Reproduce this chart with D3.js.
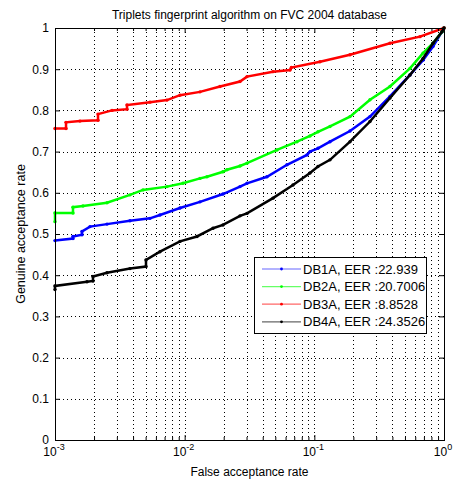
<!DOCTYPE html>
<html lang="en">
<head>
  <script src="https://d3js.org/d3.v7.min.js"></script>
  <style>
    body { margin: 0; background: #fff; }
    text { font-family: "Liberation Sans", Arial, sans-serif; }
  </style>
</head>
<body>
<svg width="455" height="483"></svg>
<script>
// ROC data: false acceptance rate / genuine acceptance rate
var db1aFar = [0.001, 0.001376, 0.001376, 0.001615, 0.001615, 0.001862, 0.002518, 0.003787, 0.005403, 0.006451, 0.009204, 0.01313, 0.01975, 0.02672, 0.03025, 0.04314, 0.06153, 0.08779, 0.0926, 0.1067, 0.1321, 0.1884, 0.2687, 0.3832, 0.5465, 0.6887, 0.8225, 0.9649, 1.0];
var db1aGar = [0.484, 0.489, 0.494, 0.498, 0.506, 0.518, 0.524, 0.532, 0.538, 0.546, 0.563, 0.578, 0.597, 0.615, 0.623, 0.639, 0.668, 0.692, 0.700, 0.708, 0.724, 0.750, 0.785, 0.834, 0.886, 0.922, 0.955, 0.991, 1.0];

var db2aFar = [0.001, 0.001, 0.001376, 0.001376, 0.001644, 0.002518, 0.003787, 0.004771, 0.007306, 0.009707, 0.01313, 0.01487, 0.01975, 0.02121, 0.02672, 0.03025, 0.05152, 0.0735, 0.0926, 0.1067, 0.1321, 0.1884, 0.2687, 0.3832, 0.5465, 0.6887, 0.8225, 0.9649, 1.0];
var db2aGar = [0.530, 0.551, 0.551, 0.565, 0.568, 0.576, 0.595, 0.607, 0.615, 0.623, 0.635, 0.639, 0.651, 0.656, 0.665, 0.672, 0.704, 0.724, 0.738, 0.748, 0.761, 0.785, 0.826, 0.858, 0.902, 0.939, 0.963, 0.991, 1.0];

var db3aFar = [0.001, 0.001216, 0.001216, 0.001558, 0.002146, 0.002146, 0.002752, 0.003592, 0.003592, 0.005403, 0.007306, 0.009204, 0.01313, 0.01873, 0.02672, 0.03025, 0.04799, 0.06493, 0.0665, 0.1106, 0.1884, 0.3832, 0.6526, 1.0];
var db3aGar = [0.756, 0.756, 0.771, 0.774, 0.776, 0.791, 0.800, 0.803, 0.813, 0.820, 0.825, 0.837, 0.845, 0.858, 0.870, 0.882, 0.894, 0.898, 0.904, 0.918, 0.935, 0.963, 0.979, 1.0];

var db4aFar = [0.001, 0.001, 0.001765, 0.001963, 0.001963, 0.002518, 0.003787, 0.005032, 0.005032, 0.006451, 0.009204, 0.01245, 0.01654, 0.01975, 0.02672, 0.03025, 0.04799, 0.06846, 0.0926, 0.1067, 0.1321, 0.1884, 0.2687, 0.3832, 0.5465, 0.6887, 0.8225, 0.9649, 1.0];
var db4aGar = [0.365, 0.374, 0.384, 0.386, 0.397, 0.406, 0.416, 0.421, 0.437, 0.457, 0.482, 0.494, 0.514, 0.522, 0.544, 0.550, 0.587, 0.619, 0.648, 0.664, 0.680, 0.724, 0.773, 0.830, 0.886, 0.926, 0.963, 0.991, 1.0];

var seriesNames = ["DB1A, EER :22.939", "DB2A, EER :20.7006", "DB3A, EER :8.8528", "DB4A, EER :24.3526"];
var seriesColors = ["#0000ff", "#00ff00", "#ff0000", "#000000"];
var yTicks = [0, 0.1, 0.2, 0.3, 0.4, 0.5, 0.6, 0.7, 0.8, 0.9, 1];
var xDecades = [1e-3, 1e-2, 1e-1, 1];
var xExponents = ["-3", "-2", "-1", "0"];

var series = [
  { far: db1aFar, gar: db1aGar },
  { far: db2aFar, gar: db2aGar },
  { far: db3aFar, gar: db3aGar },
  { far: db4aFar, gar: db4aGar }
];

var svg = d3.select("svg");
var pLeft = 55, pRight = 444, pTop = 28, pBottom = 440;

var x = d3.scaleLog().domain([1e-3, 1]).range([pLeft, pRight]);
var y = d3.scaleLinear().domain([0, 1]).range([pBottom, pTop]);

// minor log positions
var minor = [];
[1e-3, 1e-2, 1e-1].forEach(function(d) {
  for (var k = 2; k <= 9; k++) minor.push(d * k);
});

// grid
var grid = svg.append("g")
  .attr("stroke", "#000")
  .attr("stroke-width", 1)
  .attr("stroke-dasharray", "1,3")
  .attr("shape-rendering", "crispEdges");
grid.selectAll(".gx")
  .data(minor.concat([1e-2, 1e-1]))
  .enter().append("line")
  .attr("x1", function(d) { return Math.round(x(d)) + 0.5; })
  .attr("x2", function(d) { return Math.round(x(d)) + 0.5; })
  .attr("y1", pTop).attr("y2", pBottom);
grid.selectAll(".gy")
  .data(yTicks.slice(1, -1))
  .enter().append("line")
  .attr("y1", function(d) { return Math.round(y(d)) + 0.5; })
  .attr("y2", function(d) { return Math.round(y(d)) + 0.5; })
  .attr("x1", pLeft).attr("x2", pRight);

// curves
var line = d3.line()
  .x(function(d) { return x(d[0]); })
  .y(function(d) { return y(d[1]); });

series.forEach(function(s, i) {
  var pts = s.far.map(function(f, j) { return [f, s.gar[j]]; });
  svg.append("path")
    .datum(pts)
    .attr("fill", "none")
    .attr("stroke", seriesColors[i])
    .attr("stroke-width", 2.5)
    .attr("d", line);
  svg.append("g").selectAll("circle")
    .data(pts)
    .enter().append("circle")
    .attr("cx", function(d) { return x(d[0]); })
    .attr("cy", function(d) { return y(d[1]); })
    .attr("r", 1.7)
    .attr("fill", seriesColors[i]);
});

// axes (ticks inward, box on)
var yAxis = svg.append("g")
  .attr("transform", "translate(" + pLeft + ",0)")
  .call(d3.axisLeft(y).tickValues(yTicks).tickSize(-5).tickPadding(6)
    .tickFormat(function(d) { return String(+d.toFixed(1)); }));
yAxis.selectAll("text").attr("font-size", "12px").attr("fill", "#000");

svg.append("g")
  .attr("transform", "translate(" + pRight + ",0)")
  .call(d3.axisRight(y).tickValues(yTicks).tickSize(-5).tickFormat(""));

svg.append("g")
  .attr("transform", "translate(0," + pBottom + ")")
  .call(d3.axisBottom(x).tickValues(xDecades).tickSize(-5).tickFormat(""));
svg.append("g")
  .attr("transform", "translate(0," + pBottom + ")")
  .call(d3.axisBottom(x).tickValues(minor).tickSize(-3).tickFormat(""));
svg.append("g")
  .attr("transform", "translate(0," + pTop + ")")
  .call(d3.axisTop(x).tickValues(xDecades).tickSize(-5).tickFormat(""));
svg.append("g")
  .attr("transform", "translate(0," + pTop + ")")
  .call(d3.axisTop(x).tickValues(minor).tickSize(-3).tickFormat(""));
svg.selectAll(".domain").remove();

svg.append("rect")
  .attr("x", pLeft + 0.5).attr("y", pTop + 0.5)
  .attr("width", pRight - pLeft).attr("height", pBottom - pTop)
  .attr("fill", "none").attr("stroke", "#000")
  .attr("shape-rendering", "crispEdges");

// x tick labels with exponents
var xl = svg.append("g").selectAll("text")
  .data(xDecades)
  .enter().append("text")
  .attr("x", function(d) { return x(d) - 1; })
  .attr("y", pBottom + 16)
  .attr("text-anchor", "middle")
  .attr("font-size", "12px");
xl.append("tspan").text("10");
xl.append("tspan")
  .attr("dy", -6)
  .attr("font-size", "9px")
  .text(function(d, i) { return xExponents[i]; });

// labels
svg.append("text")
  .attr("x", (pLeft + pRight) / 2)
  .attr("y", 19)
  .attr("text-anchor", "middle")
  .attr("font-size", "12px")
  .text("Triplets fingerprint algorithm on FVC 2004 database");

svg.append("text")
  .attr("x", (pLeft + pRight) / 2)
  .attr("y", 476)
  .attr("text-anchor", "middle")
  .attr("font-size", "12px")
  .text("False acceptance rate");

svg.append("text")
  .attr("transform", "translate(25," + ((pTop + pBottom) / 2) + ") rotate(-90)")
  .attr("text-anchor", "middle")
  .attr("font-size", "12.5px")
  .text("Genuine acceptance rate");

// legend
var lg = svg.append("g").attr("transform", "translate(254,257)");
lg.append("rect")
  .attr("x", 0.5).attr("y", 0.5)
  .attr("width", 172).attr("height", 76)
  .attr("fill", "#fff").attr("stroke", "#000")
  .attr("shape-rendering", "crispEdges");
seriesNames.forEach(function(name, i) {
  var yy = 12 + i * 17.6;
  lg.append("line")
    .attr("x1", 8).attr("x2", 47)
    .attr("y1", yy).attr("y2", yy)
    .attr("stroke", seriesColors[i])
    .attr("stroke-opacity", 0.6)
    .attr("stroke-width", 1.2);
  lg.append("circle")
    .attr("cx", 27.5).attr("cy", yy).attr("r", 1.4)
    .attr("fill", seriesColors[i]);
  lg.append("text")
    .attr("x", 49).attr("y", yy + 4.5)
    .attr("font-size", "13px")
    .text(name);
});
</script>
</body>
</html>
